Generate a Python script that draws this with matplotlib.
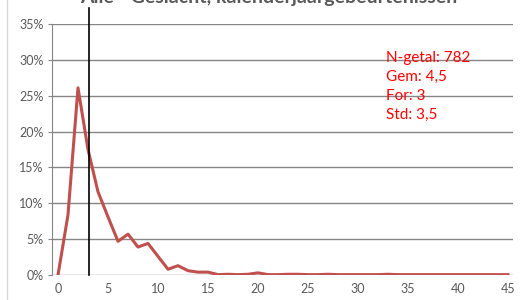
import matplotlib.pyplot as plt
from matplotlib.ticker import PercentFormatter

# share per value (0..45)
waarden = list(range(46))
aandeel = [0.0, 8.4, 26.1, 17.5, 11.6, 8.1, 4.7, 5.7, 3.9, 4.4,
           2.6, 0.8, 1.3, 0.6, 0.4, 0.4, 0.05, 0.1, 0.05, 0.1,
           0.3, 0.05, 0.05, 0.1, 0.1, 0.05, 0.05, 0.1, 0.05, 0.05,
           0.05, 0.05, 0.05, 0.1, 0.05, 0.05, 0.05, 0.05, 0.05, 0.05,
           0.05, 0.05, 0.05, 0.05, 0.05, 0.05]
modus = 3.05
stats = ["N-getal: 782", "Gem: 4,5", "For: 3", "Std: 3,5"]
titel = "Alle - Geslacht, kalenderjaargebeurtenissen"

plt.rcParams['font.family'] = ['Lato', 'DejaVu Sans']

fig = plt.figure(figsize=(5.26, 3.0), dpi=100)
fig.set_facecolor('white')
ax = fig.add_axes([52/526, 1 - 275/300, 461/526, 251/300])

ax.plot(waarden, aandeel, color='#c0504d', lw=2.2, solid_joinstyle='round', zorder=3)
ax.plot([modus, modus], [0, 37.2], color='black', lw=1.2, clip_on=False, zorder=4)

ax.set_xlim(-0.6, 45.5)
ax.set_ylim(0, 35)
ax.set_yticks(range(0, 36, 5))
ax.set_xticks(range(0, 46, 5))
ax.yaxis.set_major_formatter(PercentFormatter(decimals=0))
ax.grid(axis='y', color='#868686', lw=1)
ax.set_axisbelow(True)
for s in ['top', 'right', 'bottom']:
    ax.spines[s].set_visible(False)
ax.spines['left'].set_color('#868686')
ax.tick_params(axis='y', length=3, color='#868686', labelcolor='#595959', labelsize=9, pad=3)
ax.tick_params(axis='x', length=0, labelcolor='#595959', labelsize=9, pad=6)

for i, t in enumerate(stats):
    ax.text(0.7245, 0.8645 - i * 0.076, t, transform=ax.transAxes, color='#ff0000',
            fontsize=11, va='center', ha='left')

fig.text(0.51, 1 - 3/300, titel, ha='center', va='baseline', fontsize=14,
         fontweight='bold', color='#595959')
fig.add_artist(plt.Line2D([7/526, 7/526], [0, 1], color='#d9d9d9', lw=1))

fig.savefig('out.png', dpi=100)
